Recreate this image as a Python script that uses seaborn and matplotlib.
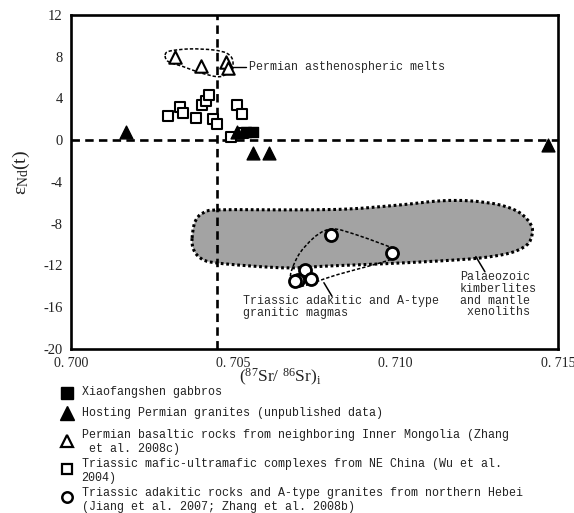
import numpy as np
import pandas as pd
import matplotlib
matplotlib.use("Agg")
import matplotlib.pyplot as plt
from matplotlib.path import Path
from matplotlib.patches import PathPatch
from matplotlib.lines import Line2D
import seaborn as sns

# ---- data: (87Sr/86Sr)i and eNd(t) ----
gabbro_sr = [0.7054, 0.7056]
gabbro_nd = [0.8, 0.8]

granite_sr = [0.7017, 0.7051, 0.7056, 0.7061, 0.7147]
granite_nd = [0.8, 0.8, -1.2, -1.2, -0.5]

basalt_sr = [0.7032, 0.7040, 0.70477, 0.70483]
basalt_nd = [8.0, 7.1, 7.5, 6.95]

mafic_sr = [0.7030, 0.70337, 0.70345, 0.70384, 0.70403, 0.70415, 0.70424,
            0.70438, 0.70451, 0.70493, 0.70512, 0.70527, 0.70531]
mafic_nd = [2.3, 3.15, 2.65, 2.15, 3.4, 3.75, 4.3, 2.05, 1.6, 0.3, 3.35, 2.5, 0.65]

adakite_sr = [0.7080, 0.7099, 0.7072, 0.7070, 0.7074, 0.7069]
adakite_nd = [-9.1, -10.8, -12.4, -13.4, -13.3, -13.5]

# field outlines (points on closed smooth curves)
kimberlite_sr = [0.70373, 0.70382, 0.70407, 0.70459, 0.70705, 0.70859, 0.71013,
                 0.71137, 0.71229, 0.71321, 0.71383, 0.71417, 0.71420, 0.71404,
                 0.71352, 0.71260, 0.71137, 0.70952, 0.70798, 0.70675, 0.70551,
                 0.70428, 0.70391, 0.70376]
kimberlite_nd = [-9.36, -7.82, -6.96, -6.67, -6.67, -6.58, -6.20,
                 -5.81, -5.81, -6.20, -6.96, -8.12, -9.07, -10.03,
                 -10.80, -11.28, -11.56, -11.85, -12.04, -12.23, -12.04,
                 -11.66, -11.08, -10.32]

asthen_sr = [0.70290, 0.70305, 0.70367, 0.70438, 0.70480, 0.70498, 0.70495,
             0.70474, 0.70449, 0.70397, 0.70346, 0.70300]
asthen_nd = [8.17, 8.55, 8.75, 8.65, 8.33, 7.69, 6.73, 6.25, 6.09, 6.48, 7.05, 7.53]

triassic_sr = [0.70675, 0.70680, 0.70705, 0.70746, 0.70782, 0.70818, 0.70880,
               0.70952, 0.71003, 0.71008, 0.70988, 0.70911, 0.70818, 0.70757,
               0.70715, 0.70685]
triassic_nd = [-13.54, -12.42, -10.80, -9.39, -8.66, -8.52, -9.07,
               -9.87, -10.51, -10.99, -11.40, -12.11, -12.90, -13.54,
               -13.96, -13.96]

x_ticks = [0.700, 0.705, 0.710, 0.715]
x_ticklabels = ["0. 700", "0. 705", "0. 710", "0. 715"]
y_ticks = [12, 8, 4, 0, -4, -8, -12, -16, -20]
y_ticklabels = ["12", "8", "4", "0", "-4", "-8", "-12", "-16", "-20"]

sr_ref = 0.7045  # bulk earth reference lines
nd_ref = 0.0

legend_labels = [
    ["Xiaofangshen gabbros"],
    ["Hosting Permian granites (unpublished data)"],
    ["Permian basaltic rocks from neighboring Inner Mongolia (Zhang",
     " et al. 2008c)"],
    ["Triassic mafic-ultramafic complexes from NE China (Wu et al.",
     "2004)"],
    ["Triassic adakitic rocks and A-type granites from northern Hebei",
     "(Jiang et al. 2007; Zhang et al. 2008b)"],
]

# ---- style ----
sns.set_style("white")
MONO = ["Liberation Mono", "DejaVu Sans Mono"]
SERIF = ["Liberation Serif", "DejaVu Serif"]
plt.rcParams["font.family"] = SERIF
plt.rcParams["axes.unicode_minus"] = False
plt.rcParams["mathtext.fontset"] = "custom"
plt.rcParams["mathtext.rm"] = "Liberation Serif"
plt.rcParams["mathtext.it"] = "Liberation Serif:italic"

fig = plt.figure(figsize=(5.74, 5.13), dpi=100)
ax = fig.add_axes([0.1237, 0.3197, 0.8484, 0.6511])


def smooth_closed(xs, ys):
    """Closed Catmull-Rom curve through the given points, as cubic Bezier segments."""
    P = np.column_stack([xs, ys])
    n = len(P)
    verts = [P[0]]
    codes = [Path.MOVETO]
    for i in range(n):
        p0, p1, p2, p3 = P[i - 1], P[i], P[(i + 1) % n], P[(i + 2) % n]
        verts += [p1 + (p2 - p0) / 6, p2 - (p3 - p1) / 6, p2]
        codes += [Path.CURVE4] * 3
    return Path(np.array(verts), codes)


# grey kimberlite / xenolith field
kpath = smooth_closed(kimberlite_sr, kimberlite_nd)
ax.add_patch(PathPatch(kpath, facecolor="#a3a3a3", edgecolor="none", zorder=1))
ax.add_patch(PathPatch(kpath, facecolor="none", edgecolor="black", lw=2.2,
                       linestyle=(0, (0.9, 0.9)), zorder=2))

# dashed envelopes
for xs, ys in [(asthen_sr, asthen_nd), (triassic_sr, triassic_nd)]:
    ax.add_patch(PathPatch(smooth_closed(xs, ys), facecolor="none",
                           edgecolor="black", lw=1.1,
                           linestyle=(0, (2.2, 1.3)), zorder=3))

# reference lines
ax.axvline(sr_ref, color="black", lw=1.9, dashes=(3.2, 2.0), zorder=2.5)
ax.axhline(nd_ref, color="black", lw=1.9, dashes=(3.2, 2.0), zorder=2.5)

# data points
sns.scatterplot(x=mafic_sr, y=mafic_nd, marker="s", s=55, color="white",
                edgecolor="black", linewidth=1.5, ax=ax, zorder=5)
sns.scatterplot(x=basalt_sr, y=basalt_nd, marker="^", s=80, color="white",
                edgecolor="black", linewidth=1.5, ax=ax, zorder=5)
sns.scatterplot(x=adakite_sr, y=adakite_nd, marker="o", s=75, color="white",
                edgecolor="black", linewidth=2.0, ax=ax, zorder=5)
sns.scatterplot(x=gabbro_sr, y=gabbro_nd, marker="s", s=60, color="black",
                edgecolor="black", linewidth=1, ax=ax, zorder=6)
sns.scatterplot(x=granite_sr, y=granite_nd, marker="^", s=85, color="black",
                edgecolor="black", linewidth=1, ax=ax, zorder=6)

# field labels and leaders
tkw = dict(family=MONO, fontsize=8.4, color="#2a2a2a")
ax.plot([0.70498, 0.70540], [7.05, 7.05], color="black", lw=1, zorder=4)
ax.text(0.70548, 7.05, "Permian asthenospheric melts", va="center", ha="left", **tkw)

ax.plot([0.70779, 0.70804], [-13.65, -14.95], color="black", lw=1.1, zorder=4)
ax.text(0.70530, -16.0, "Triassic adakitic and A-type\ngranitic magmas",
        va="center", ha="left", linespacing=1.05, **tkw)

ax.plot([0.71247, 0.71275], [-11.15, -12.6], color="black", lw=1.1, zorder=4)
ax.text(0.71198, -14.8, "Palaeozoic\nkimberlites\nand mantle\n xenoliths",
        va="center", ha="left", linespacing=0.98, **tkw)

# axes
ax.set_xlim(0.700, 0.715)
ax.set_ylim(-20, 12)
ax.set_xticks(x_ticks)
ax.set_xticklabels(x_ticklabels)
ax.set_xticks(np.arange(0.700, 0.7151, 0.001), minor=True)
ax.set_yticks(y_ticks)
ax.set_yticklabels(y_ticklabels)
ax.set_yticks(np.arange(-20, 12.1, 2), minor=True)
ax.tick_params(which="both", direction="in", length=5, width=1.6,
               top=False, right=False, color="black")
ax.tick_params(axis="x", which="major", pad=6, labelsize=10, labelcolor="#222")
ax.tick_params(axis="y", which="major", pad=6, labelsize=10.5, labelcolor="#222")
for sp in ax.spines.values():
    sp.set_linewidth(1.9)
    sp.set_color("black")

ax.set_xlabel(r"($^{87}$Sr/ $^{86}$Sr)$_{\mathrm{i}}$", fontsize=12.5, color="#222")
ax.xaxis.set_label_coords(0.429, -0.055)
ax.set_ylabel(r"ε$_{\mathrm{Nd}}$(t)", fontsize=14, color="#222", labelpad=3)
ax.yaxis.set_label_coords(-0.08, 0.53)

# legend below the plot
W, H = 574.0, 513.0
mx, tx = 67 / W, 81.5 / W
marker_specs = [
    dict(marker="s", ms=8, mfc="black", mec="black", mew=1, y=392.5),
    dict(marker="^", ms=9.5, mfc="black", mec="black", mew=1, y=413.0),
    dict(marker="^", ms=8, mfc="white", mec="black", mew=1.6, y=440.5),
    dict(marker="s", ms=7, mfc="white", mec="black", mew=1.6, y=468.5),
    dict(marker="o", ms=7.5, mfc="white", mec="black", mew=1.8, y=497.0),
]
line_y = [[392.3], [413.3], [435.0, 449.3], [464.0, 478.3], [493.3, 506.7]]
for spec, lines, ys in zip(marker_specs, legend_labels, line_y):
    yy = 1 - spec.pop("y") / H
    fig.add_artist(Line2D([mx], [yy], transform=fig.transFigure, ls="none", **spec))
    for txt, ly in zip(lines, ys):
        fig.text(tx, 1 - ly / H, txt, va="center", ha="left",
                 family=MONO, fontsize=8.4, color="#222")

fig.savefig("out.png", dpi=100)
